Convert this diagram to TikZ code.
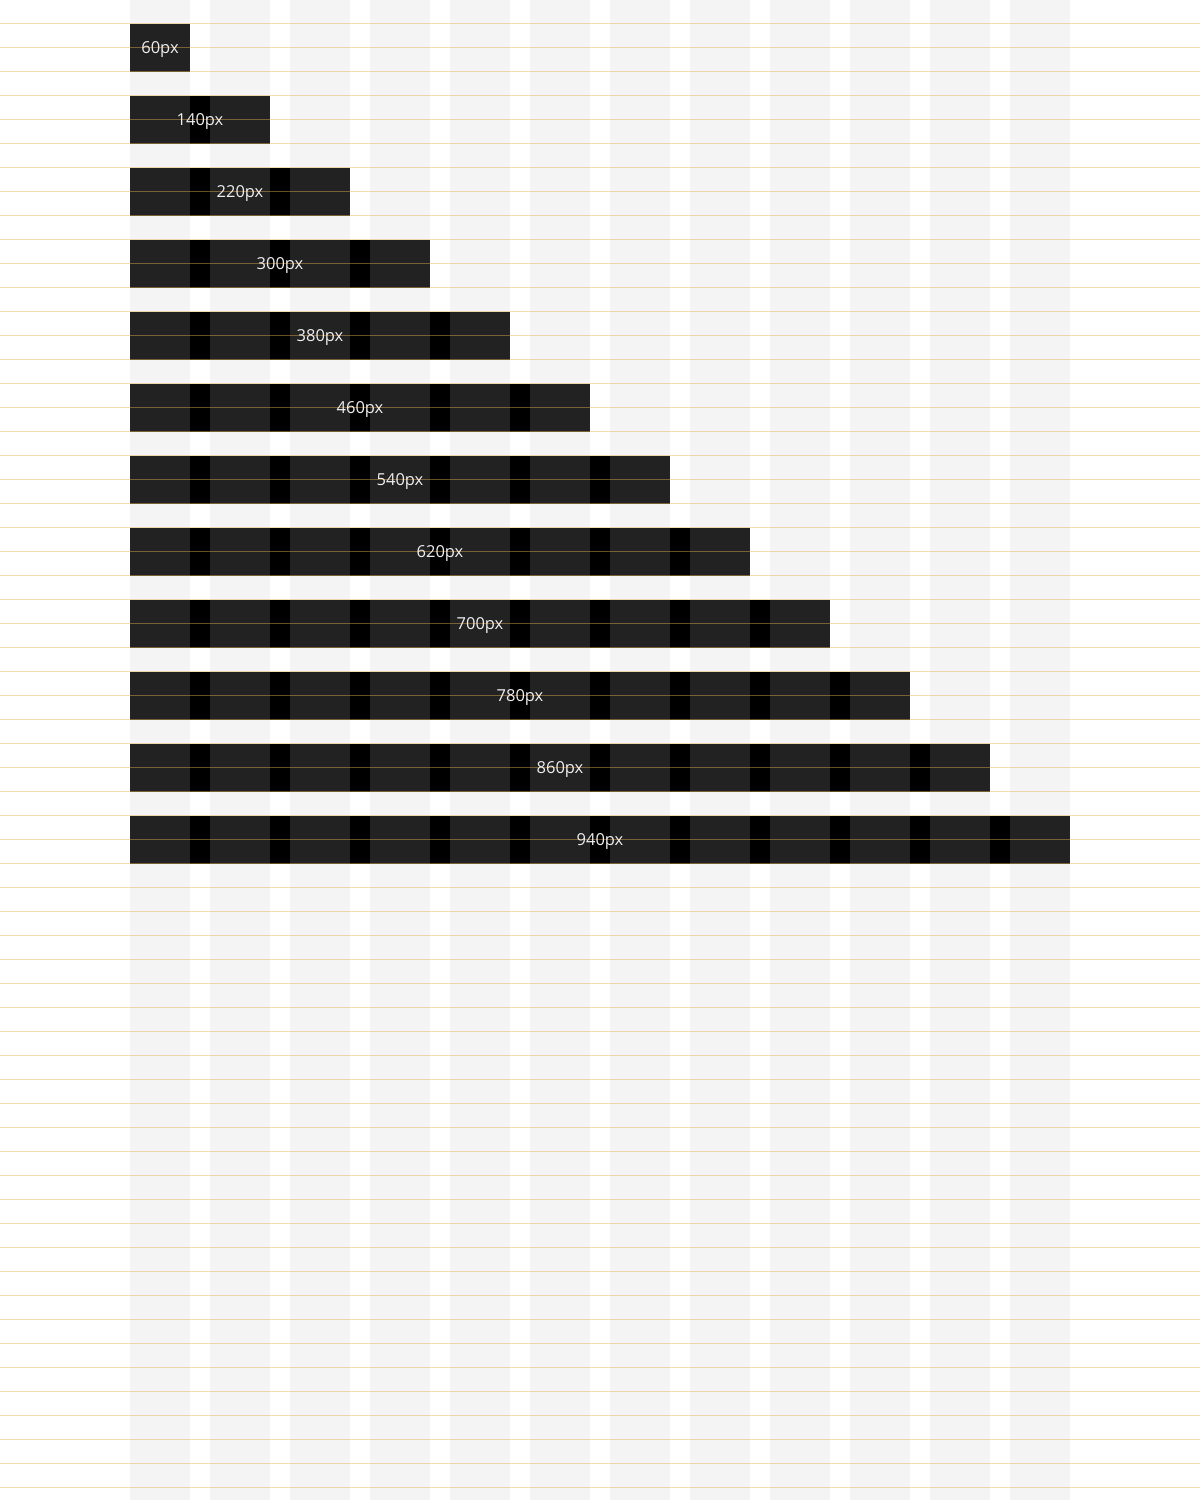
\documentclass[tikz,border=0pt]{standalone}
\usepackage{fontspec}
\setmainfont{Open Sans}
\usepackage{xcolor}
\usepackage{tikz}
\usetikzlibrary{positioning}
\definecolor{gCol}{HTML}{F4F4F4}
\definecolor{gBar}{HTML}{222222}
\definecolor{gRule}{HTML}{E8B050}
\definecolor{gInk}{HTML}{EEEEEE}

\begin{document}
\begin{tikzpicture}[x=1pt, y=-1pt,
          column/.style={fill=gCol},
          span/.style={fill=gBar},
          gutter/.style={fill=black},
          baseline rule/.style={draw=gRule, line width=1pt, opacity=0.45},
          tag/.style={text=gInk, inner sep=0pt, font=\fontsize{16.5}{18}\selectfont}]
        \useasboundingbox (0,0) rectangle (1200,1500);
        % columns
        \foreach \i in {0,...,11}
          \fill[column] (130+80*\i,0) rectangle ++(60,1500);
        % spans
        \foreach \k in {0,...,11} {
          \fill[span] (130,24+72*\k) rectangle ++(60+80*\k,48);
          \ifnum\k>0
            \foreach \g in {1,...,\k}
              \fill[gutter] (110+80*\g,24+72*\k) rectangle ++(20,48);
          \fi
        }
        % baseline grid
        \foreach \j in {0,...,61}
          \draw[baseline rule] (0,23.5+24*\j) -- (1200,23.5+24*\j);
        % labels
        \foreach \k in {0,...,11} {
          \pgfmathtruncatemacro{\w}{60+80*\k}
          \node[tag] (lbl\k) at (130+\w/2,49+72*\k) {\w px};
        }
      \end{tikzpicture}
\end{document}
